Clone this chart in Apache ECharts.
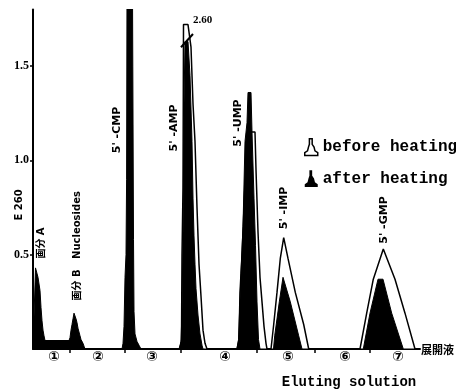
<!DOCTYPE html>
<html>
<head>
<meta charset="utf-8">
<script src="https://cdn.jsdelivr.net/npm/echarts@6/dist/echarts.min.js"></script>
<style>
  html, body { margin: 0; padding: 0; background: #fff; }
  #chart { width: 456px; height: 389px; }
</style>
</head>
<body>
<div id="chart"></div>
<script>
// elution volume (arbitrary units along the column run) / E260
var afterVol = [0, 2, 2.5, 4, 5, 7, 8, 9, 10, 11, 12, 36, 37, 38, 39, 40, 41, 42, 43, 44, 45, 46, 47, 48, 50, 51, 52,
    89, 90, 91, 92, 93, 93.6, 94, 99.5, 99.8, 100.5, 101, 102, 104, 106, 108,
    146, 148, 149, 150, 151, 152, 155, 157, 159, 160, 161, 162, 163, 165, 167, 169, 170,
    204, 205.5, 208, 210, 212, 214, 215, 218, 219, 221, 222.5, 224, 225.5, 227,
    240.5, 241.7, 246.3, 250, 252, 257.3, 265.7, 269,
    330.3, 337, 345, 350, 358.7, 370.3, 387];
var afterAbs = [0, 0, 0.43, 0.43, 0.38, 0.31, 0.22, 0.15, 0.1, 0.07, 0.045, 0.045, 0.06, 0.1, 0.13, 0.16, 0.19, 0.19, 0.16, 0.14, 0.11, 0.09, 0.07, 0.05, 0.03, 0.015, 0,
    0, 0.03, 0.12, 0.38, 0.5, 0.9, 1.9, 1.9, 1.5, 0.58, 0.2, 0.08, 0.04, 0.02, 0,
    0, 0.04, 0.2, 0.6, 1.3, 1.63, 1.63, 1.45, 1.1, 0.8, 0.6, 0.45, 0.32, 0.18, 0.08, 0.02, 0,
    0, 0.05, 0.4, 0.65, 1.1, 1.2, 1.36, 1.36, 1.15, 0.8, 0.55, 0.25, 0.05, 0,
    0, 0.07, 0.25, 0.38, 0.38, 0.25, 0.07, 0,
    0, 0.19, 0.37, 0.37, 0.19, 0, 0];

var beforeVol = [0, 147, 148.5, 149, 150, 150.5, 155, 158, 160, 162, 164, 166, 168, 170, 172, 174,
    204, 206, 207, 209, 211, 213, 215, 217, 222, 223, 225, 227, 229, 231, 233, 234,
    238, 240.7, 244, 247.3, 250.7, 251.5, 255, 262.3, 270.7, 275.7,
    327, 333.7, 340.3, 350.3, 351, 362, 372, 382, 387];
var beforeAbs = [0, 0, 0.05, 0.5, 0.85, 1.72, 1.72, 1.6, 1.3, 1.1, 0.75, 0.45, 0.28, 0.1, 0.03, 0,
    0, 0.05, 0.3, 0.5, 0.75, 1.0, 1.1, 1.15, 1.15, 0.95, 0.62, 0.38, 0.25, 0.12, 0.03, 0,
    0, 0.13, 0.3, 0.48, 0.59, 0.59, 0.48, 0.3, 0.13, 0,
    0, 0.19, 0.37, 0.53, 0.53, 0.37, 0.19, 0, 0];

// eluting solution sections
var sectionBounds = [37, 92, 148, 224, 282, 337];
var sectionCenters = [21, 65, 119, 192, 255, 312, 365];
var sectionNames = ['①', '②', '③', '④', '⑤', '⑥', '⑦'];
var yTicks = [0.5, 1.0, 1.5];

function pairs(xs, ys) {
    var out = [];
    for (var i = 0; i < xs.length; i++) out.push([xs[i], ys[i]]);
    return out;
}

var peakIcon = 'path://M5,0 L8,0 L8,6 L10,9 L11,13 L14,15 L14,18 L0,18 L0,15 L3,13 L4,9 L5,6 Z';
var boldSans = 'DejaVu Sans';

function vtext(x, y, s, size, font) {
    return {
        type: 'text', x: x, y: y, rotation: Math.PI / 2,
        style: {
            text: s, fill: '#000', align: 'center', verticalAlign: 'middle',
            font: 'bold ' + (size || 10) + 'px "' + (font || boldSans) + '", "Noto Sans CJK JP"'
        }
    };
}

var chart = echarts.init(document.getElementById('chart'));

var options = {
    backgroundColor: '#fff',
    animation: false,
    grid: { left: 33, right: 36, top: 9.5, bottom: 40 },
    legend: {
        orient: 'vertical',
        left: 299,
        top: 133,
        itemWidth: 13,
        itemHeight: 18,
        itemGap: 14,
        selectedMode: false,
        textStyle: {
            fontFamily: 'Liberation Mono', fontWeight: 'bold', fontSize: 16, color: '#000'
        },
        data: [
            { name: 'before heating', icon: peakIcon, itemStyle: { color: '#fff', borderColor: '#000', borderWidth: 1.5 } },
            { name: 'after heating', icon: peakIcon, itemStyle: { color: '#000', borderColor: '#000', borderWidth: 0 } }
        ]
    },
    xAxis: {
        type: 'value',
        min: 0,
        max: 387,
        splitLine: { show: false },
        axisLine: { lineStyle: { color: '#000', width: 2 } },
        axisTick: { customValues: sectionBounds, length: 4, lineStyle: { color: '#000', width: 1.5 } },
        axisLabel: {
            customValues: sectionCenters,
            margin: 1,
            color: '#000',
            fontSize: 14,
            fontWeight: 'bold',
            fontFamily: 'DejaVu Sans',
            formatter: function(v) {
                var i = sectionCenters.indexOf(v);
                return i < 0 ? '' : sectionNames[i];
            }
        }
    },
    yAxis: {
        type: 'value',
        min: 0,
        max: 1.8,
        interval: 0.5,
        splitLine: { show: false },
        axisLine: { show: true, lineStyle: { color: '#000', width: 2 } },
        axisTick: { show: true, customValues: yTicks, length: 3, lineStyle: { color: '#000', width: 1.5 } },
        axisLabel: {
            customValues: yTicks,
            margin: 4,
            color: '#000',
            fontSize: 12,
            fontWeight: 'bold',
            fontFamily: 'Liberation Serif',
            formatter: function(v) { return v.toFixed(1); }
        }
    },
    series: [
        {
            name: 'before heating',
            type: 'line',
            z: 2,
            symbol: 'none',
            clip: true,
            color: '#fff',
            lineStyle: { color: '#000', width: 1.5 },
            areaStyle: { color: '#fff', opacity: 1 },
            data: pairs(beforeVol, beforeAbs),
            markLine: {
                silent: true,
                symbol: 'none',
                label: { show: false },
                lineStyle: { color: '#000', width: 2, type: 'solid' },
                data: [[{ coord: [148, 1.6] }, { coord: [160, 1.67] }]]
            }
        },
        {
            name: 'after heating',
            type: 'line',
            z: 3,
            symbol: 'none',
            clip: true,
            color: '#000',
            lineStyle: { color: '#000', width: 1 },
            areaStyle: { color: '#000', opacity: 1 },
            data: pairs(afterVol, afterAbs)
        }
    ],
    graphic: [
        vtext(19, 205, 'E 260', 10),
        vtext(41, 243, '画分 A', 10),
        vtext(77, 285, '画分 B', 10),
        vtext(77, 225, 'Nucleosides', 10),
        vtext(117, 130, "5' -CMP", 11),
        vtext(174, 128, "5' -AMP", 11),
        vtext(238, 123, "5' -UMP", 11),
        vtext(284, 208, "5' -IMP", 11),
        vtext(384, 220, "5' -GMP", 11),
        {
            type: 'text', x: 193, y: 20,
            style: { text: '2.60', fill: '#000', align: 'left', verticalAlign: 'middle', font: 'bold 11px "Liberation Serif"' }
        },
        {
            type: 'text', x: 421, y: 350,
            style: { text: '展開液', fill: '#000', align: 'left', verticalAlign: 'middle', font: 'bold 11px "Noto Sans CJK JP"' }
        },
        {
            type: 'text', x: 349, y: 382,
            style: { text: 'Eluting solution', fill: '#000', align: 'center', verticalAlign: 'middle', font: 'bold 14px "Liberation Mono"' }
        }
    ]
};

chart.setOption(options);
</script>
</body>
</html>
